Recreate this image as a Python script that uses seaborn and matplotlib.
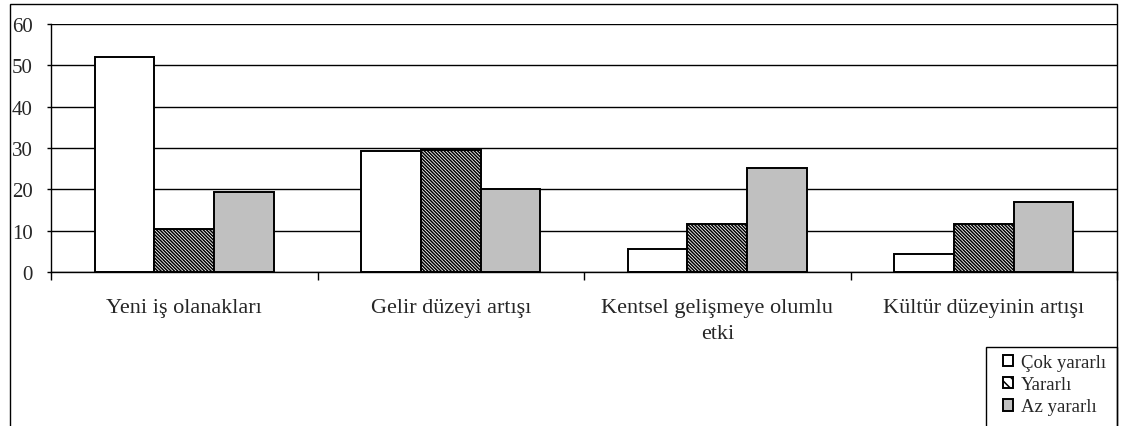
import numpy as np
import pandas as pd
import matplotlib
matplotlib.use("Agg")
import matplotlib.pyplot as plt
import seaborn as sns
from matplotlib.patches import Rectangle

categories = ["Yeni iş olanakları", "Gelir düzeyi artışı",
              "Kentsel gelişmeye olumlu\netki", "Kültür düzeyinin artışı"]
series = ["Çok yararlı", "Yararlı", "Az yararlı"]
cok_yararli = [52.1, 29.3, 5.6, 4.4]
yararli = [10.3, 29.6, 11.7, 11.7]
az_yararli = [19.3, 20.2, 25.1, 16.9]
y_ticks = [0, 10, 20, 30, 40, 50, 60]

df = pd.DataFrame({
    "kategori": categories * 3,
    "seri": [s for s in series for _ in categories],
    "deger": cok_yararli + yararli + az_yararli,
})

sns.set_style("white")
plt.rcParams['font.family'] = ['Liberation Serif', 'DejaVu Serif']
plt.rcParams['hatch.linewidth'] = 1.1
plt.rcParams['hatch.color'] = 'black'

W, H = 1121, 427
fig = plt.figure(figsize=(W / 100, H / 100), dpi=100)
ax = fig.add_axes([51 / W, 1 - 273 / H, (1117 - 51) / W, (273 - 25) / H])

palette = {"Çok yararlı": "white", "Yararlı": "white", "Az yararlı": "#c0c0c0"}
sns.barplot(data=df, x="kategori", y="deger", hue="seri", order=categories,
            hue_order=series, palette=palette, width=0.67, ax=ax,
            edgecolor="black", linewidth=1.4, saturation=1, legend=True)

hatches = {"Çok yararlı": "", "Yararlı": "\\" * 10, "Az yararlı": ""}
for cont, s in zip(ax.containers, series):
    for bar in cont:
        bar.set_hatch(hatches[s])

ax.set_ylim(0, 60)
ax.set_xlim(-0.5, len(categories) - 0.5)
ax.set_yticks(y_ticks)
ax.yaxis.grid(True, color="black", linewidth=1.0)
ax.set_axisbelow(True)
ax.set_xlabel("")
ax.set_ylabel("")
for side in ["top", "right"]:
    ax.spines[side].set_visible(False)
for side in ["left", "bottom"]:
    ax.spines[side].set_color("black")
    ax.spines[side].set_linewidth(1.0)

ax.tick_params(axis="y", left=True, length=3, width=1, color="black",
               labelsize=15, pad=10)
ax.set_xticks(np.arange(len(categories)))
ax.set_xticklabels(categories, fontsize=16, linespacing=1.55)
ax.tick_params(axis="x", bottom=False, pad=15)
ax.set_xticks(np.arange(len(categories) + 1) - 0.5, minor=True)
ax.tick_params(axis="x", which="minor", bottom=True, length=6, width=1,
               color="black", direction="out")

handles, labels = ax.get_legend_handles_labels()
ax.legend_.remove()
for h, s in zip(handles, series):
    h.set_hatch("\\\\\\" if hatches[s] else "")
    h.set_linewidth(1.4)
leg = fig.legend(handles, labels, loc="upper left",
                 bbox_to_anchor=(1003 / W, 1 - 355 / H),
                 frameon=False, fontsize=13.5, handlelength=0.55,
                 handleheight=0.55, handletextpad=0.4, labelspacing=0.28,
                 borderpad=0, borderaxespad=0)

# legend box, running past the bottom edge like the source
fig.patches.append(Rectangle((986 / W, -0.1), (1117 - 986) / W,
                             (H - 348) / H + 0.1, transform=fig.transFigure,
                             fill=False, edgecolor="black", linewidth=1.0))

# outer chart frame
fig.patches.append(Rectangle((10 / W, -0.1), (1117 - 10) / W, 1.1 - 5 / H,
                             transform=fig.transFigure, fill=False,
                             edgecolor="black", linewidth=1.0))

fig.savefig("out.png", dpi=100, facecolor="white")
